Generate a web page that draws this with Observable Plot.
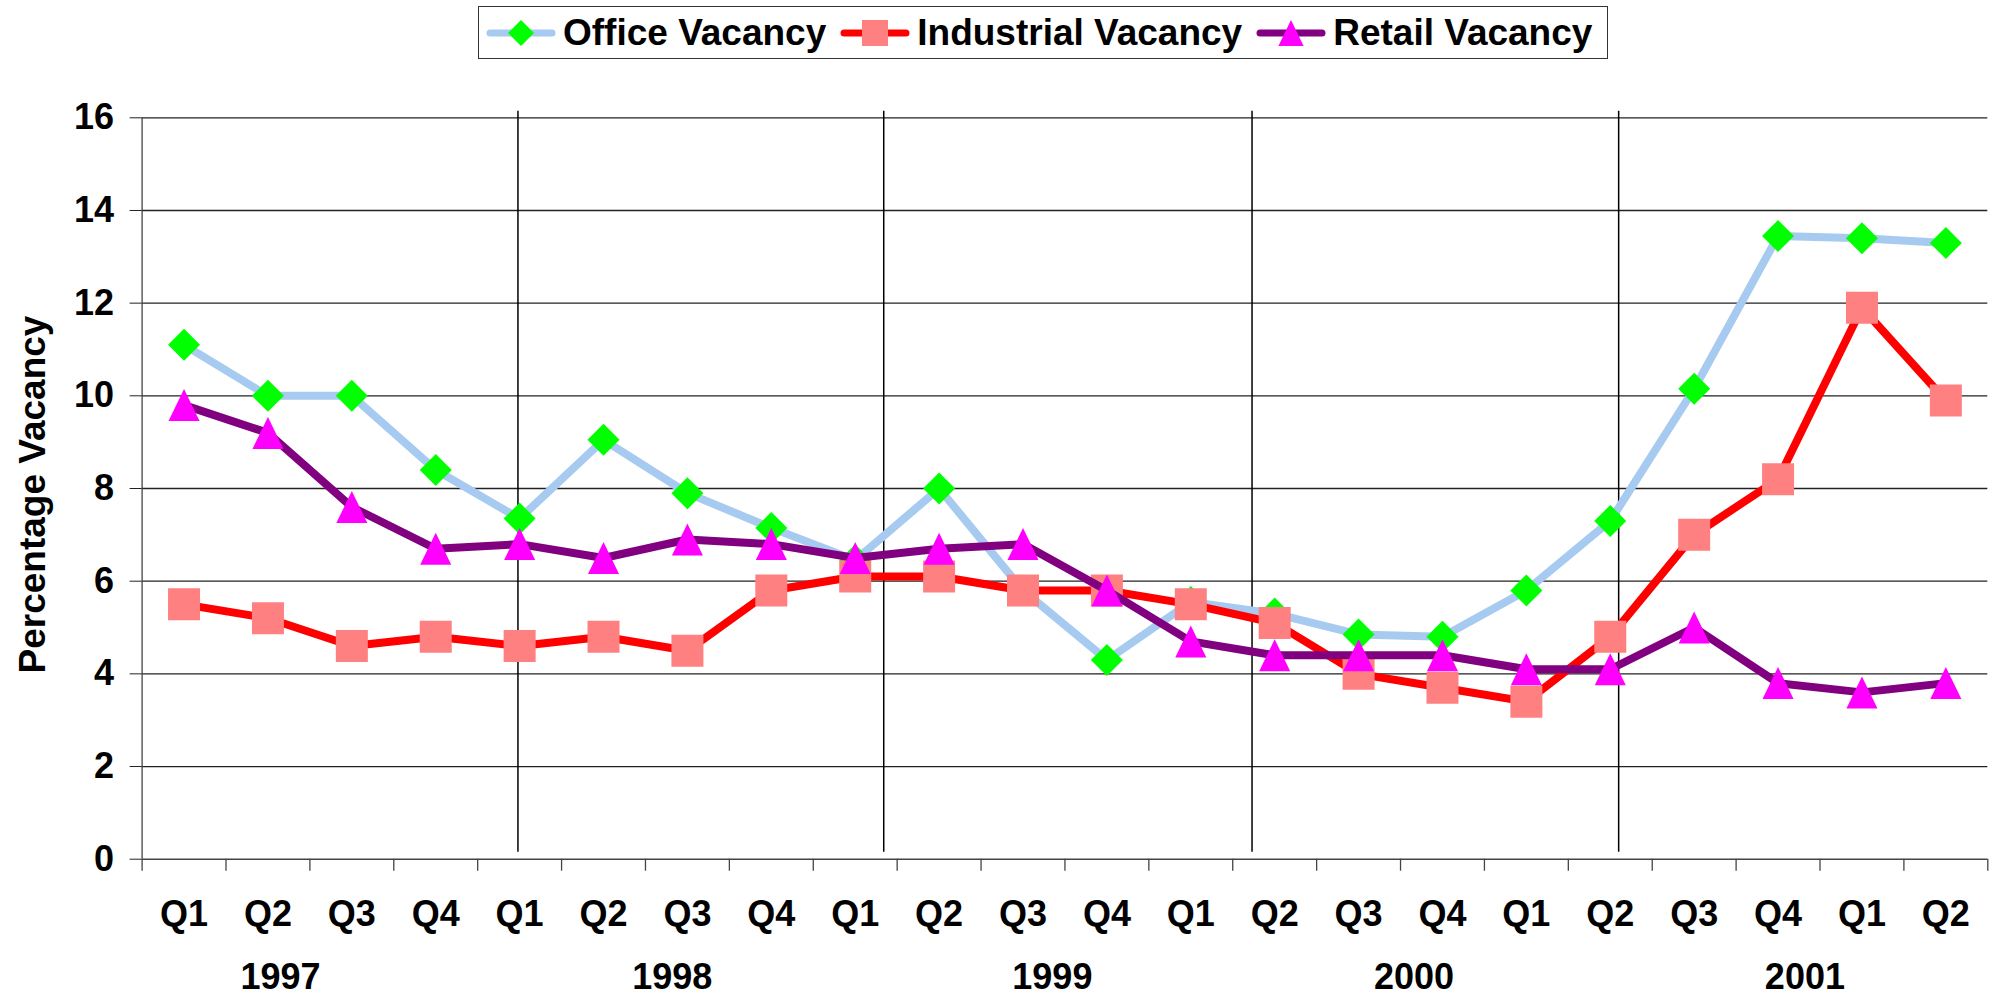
<!DOCTYPE html>
<html><head><meta charset="utf-8">
<script src="https://cdn.jsdelivr.net/npm/d3@7"></script>
<script src="https://cdn.jsdelivr.net/npm/@observablehq/plot@0.6"></script>
<style>
html,body{margin:0;padding:0;background:#fff;}
body{width:1998px;height:997px;overflow:hidden;font-family:"Liberation Sans",Arial,sans-serif;}
#legendRow{position:relative;height:62px;}
#legend{position:absolute;left:478px;top:6px;width:1130px;height:53px;box-sizing:border-box;border:1.5px solid #333;display:flex;align-items:center;padding-left:7px;font-weight:bold;font-size:37px;color:#000;white-space:nowrap;}
.item{display:flex;align-items:center;margin-right:14px;}
.item svg{margin-right:7px;display:block;}
#chart svg{display:block;}
</style></head><body>
<div id="legendRow"><div id="legend"></div></div>
<div id="chart"></div>
<script>
// ---- data ----
const quarters = ["Q1","Q2","Q3","Q4","Q1","Q2","Q3","Q4","Q1","Q2","Q3","Q4","Q1","Q2","Q3","Q4","Q1","Q2","Q3","Q4","Q1","Q2"];
const office     = [11.1, 10.0, 10.0, 8.4, 7.35, 9.05, 7.9, 7.15, 6.45, 8.0, 5.8, 4.3, 5.55, 5.3, 4.85, 4.8, 5.8, 7.3, 10.15, 13.45, 13.4, 13.3];
const industrial = [5.5, 5.2, 4.6, 4.8, 4.6, 4.8, 4.5, 5.8, 6.1, 6.1, 5.8, 5.8, 5.5, 5.1, 4.0, 3.7, 3.4, 4.8, 7.0, 8.2, 11.9, 9.9];
const retail     = [9.8, 9.2, 7.6, 6.7, 6.8, 6.5, 6.9, 6.8, 6.5, 6.7, 6.8, 5.8, 4.7, 4.4, 4.4, 4.4, 4.1, 4.1, 5.0, 3.8, 3.6, 3.8];
const seriesNames = ["Office Vacancy", "Industrial Vacancy", "Retail Vacancy"];
const yearLabels = ["1997", "1998", "1999", "2000", "2001"];
const yearPositions = [1.15, 5.82, 10.35, 14.66, 19.32];   // in quarter-index units, as placed in the original
const separators = [3.98, 8.34, 12.73, 17.10];            // year divider lines, quarter-index units
const yTicks = [0, 2, 4, 6, 8, 10, 12, 14, 16];
const yTitle = "Percentage Vacancy";

// ---- symbols ----
const rad = size => Math.sqrt(size / Math.PI);
const diamondSym = {draw(c, s){const r = rad(s); c.moveTo(0,-r); c.lineTo(r,0); c.lineTo(0,r); c.lineTo(-r,0); c.closePath();}};
const squareSym  = {draw(c, s){const r = rad(s); c.moveTo(-r,-r); c.lineTo(r,-r); c.lineTo(r,r); c.lineTo(-r,r); c.closePath();}};
const triSym     = {draw(c, s){const r = rad(s); c.moveTo(0,-r); c.lineTo(r*0.97,r); c.lineTo(-r*0.97,r); c.closePath();}};

const series = [
  {name: seriesNames[0], values: office,     line: "#a6caf0", fill: "#00ff00", symbol: diamondSym},
  {name: seriesNames[1], values: industrial, line: "#ff0000", fill: "#ff8080", symbol: squareSym},
  {name: seriesNames[2], values: retail,     line: "#800080", fill: "#ff00ff", symbol: triSym}
];

// ---- legend ----
const legend = d3.select("#legend");
for (const s of series) {
  const item = legend.append("div").attr("class", "item");
  const sw = item.append("svg").attr("width", 70).attr("height", 30);
  sw.append("line").attr("x1", 4).attr("x2", 66).attr("y1", 15).attr("y2", 15)
    .attr("stroke", s.line).attr("stroke-width", 7).attr("stroke-linecap", "round");
  const p = d3.path(); s.symbol.draw(p, 13 * 13 * Math.PI);
  sw.append("path").attr("d", p.toString()).attr("transform", "translate(35,15)").attr("fill", s.fill);
  item.append("span").text(s.name);
}

// ---- chart ----
const idx = d3.range(quarters.length);
const boundaries = d3.range(quarters.length + 1).map(i => i - 0.5);
const font = {fontSize: 36, fontWeight: "bold"};

const seriesMarks = series.flatMap(s => [
  Plot.line(s.values, {x: (d, i) => i, y: d => d, stroke: s.line, strokeWidth: 8, strokeLinejoin: "round"}),
  Plot.dot(s.values, {x: (d, i) => i, y: d => d, r: 16, symbol: s.symbol, fill: s.fill, stroke: "none"})
]);

const chart = Plot.plot({
  width: 1998, height: 935,
  marginLeft: 141.6, marginRight: 10.7, marginTop: 55.3, marginBottom: 138.3,
  style: {fontFamily: "'Liberation Sans', Arial, sans-serif", color: "#000", background: "#fff", overflow: "visible"},
  x: {domain: [-0.5, quarters.length - 0.5]},
  y: {domain: [0, 16]},
  marks: [
    Plot.gridY(yTicks.filter(d => d > 0), {stroke: "#222", strokeOpacity: 1, strokeWidth: 1.3}),
    Plot.ruleX(separators, {y1: 16.14, y2: 0.15, stroke: "#000", strokeWidth: 1.5}),
    Plot.ruleY([0], {stroke: "#444", strokeWidth: 1.5}),
    Plot.ruleX([-0.5], {stroke: "#444", strokeWidth: 1.3}),
    Plot.axisY(yTicks, {tickSize: 12, tickPadding: 16, tickFormat: d => String(d), stroke: "#222", label: null, ...font}),
    Plot.axisX(boundaries, {tickSize: 12, tickFormat: () => "", stroke: "#444", strokeWidth: 1.3, label: null}),
    Plot.axisX(idx, {tickSize: 0, tickPadding: 41, tickFormat: i => quarters[i], label: null, ...font}),
    Plot.text(yearLabels, {x: (d, i) => yearPositions[i], y: () => 0, text: d => d, dy: 104.5, lineAnchor: "top", fill: "#000", ...font}),
    Plot.text([yTitle], {frameAnchor: "left", textAnchor: "middle", lineAnchor: "middle", rotate: -90, dx: -109, dy: 6, text: d => d, fill: "#000", fontSize: 37, fontWeight: "bold"}),
    ...seriesMarks
  ]
});
document.getElementById("chart").appendChild(chart);
</script>
</body></html>
